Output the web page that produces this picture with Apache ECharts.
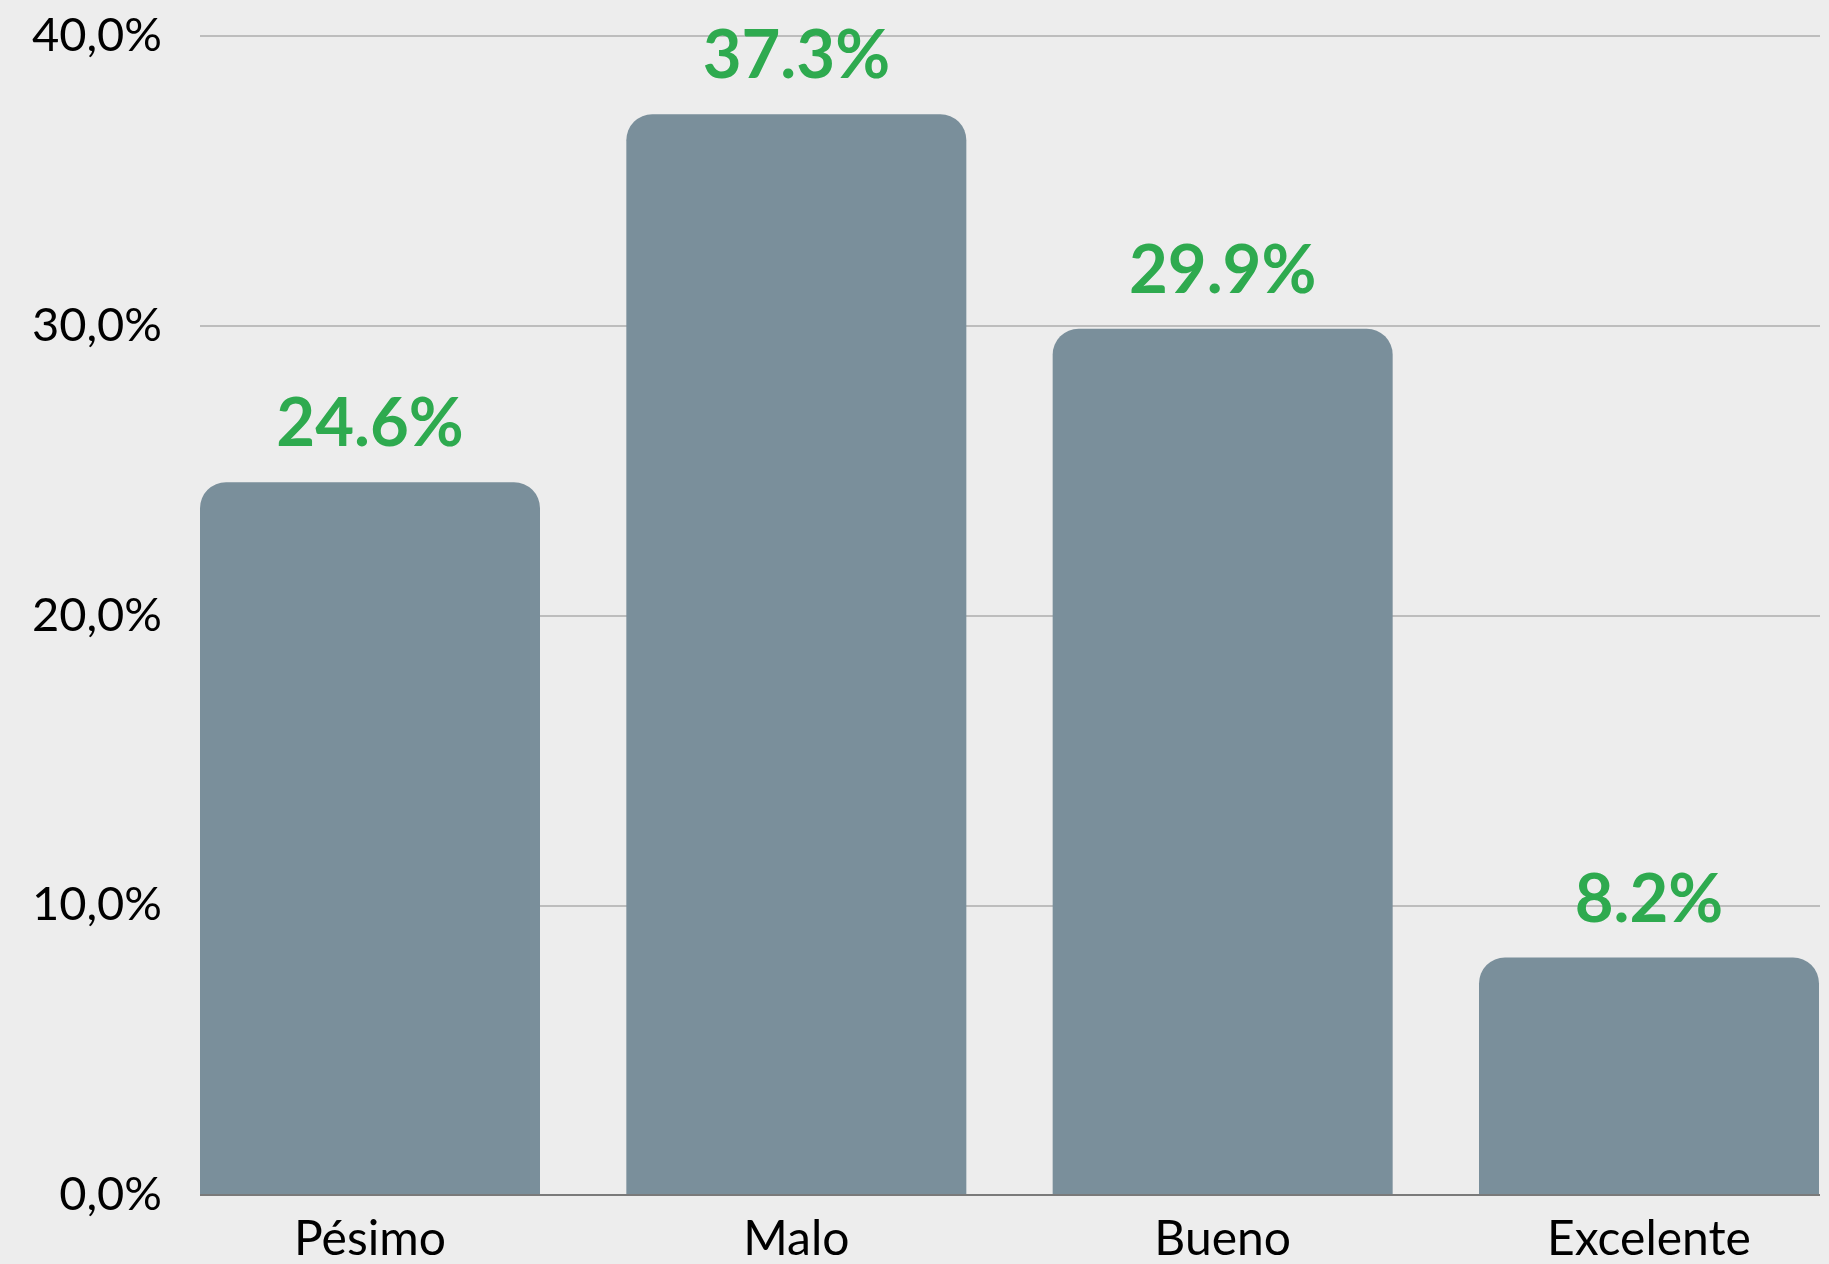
<!DOCTYPE html>
<html>
<head>
<meta charset="utf-8">
<script src="https://cdn.jsdelivr.net/npm/echarts@6/dist/echarts.min.js"></script>
<style>
  html, body { margin: 0; padding: 0; background: #ededed; }
  #main { width: 1829px; height: 1264px; }
</style>
</head>
<body>
<div id="main"></div>
<script>
const categories = ['Pésimo', 'Malo', 'Bueno', 'Excelente'];
const values = [24.6, 37.3, 29.9, 8.2];
const yTicks = [0, 10, 20, 30, 40];

const chart = echarts.init(document.getElementById('main'));

const option = {
    backgroundColor: '#ededed',
    textStyle: { fontFamily: 'Lato' },
    grid: [
        // grid for the horizontal split lines and y labels
        { left: 200, right: 9, top: 36, bottom: 69 },
        // grid for the bars, narrower so the outer bars touch the line ends
        { left: 370, right: 180, top: 36, bottom: 69 }
    ],
    xAxis: [
        {
            gridIndex: 0, type: 'value', min: 0, max: 1,
            axisLine: { show: false }, axisTick: { show: false },
            axisLabel: { show: false }, splitLine: { show: false }
        },
        {
            gridIndex: 1, type: 'category', data: categories, boundaryGap: false,
            axisLine: { show: false },
            axisTick: { show: false },
            axisLabel: { color: '#000', fontSize: 48, margin: 21, fontFamily: 'Lato' }
        }
    ],
    yAxis: [
        {
            gridIndex: 0, type: 'value', min: yTicks[0], max: yTicks[yTicks.length - 1], interval: 10,
            axisLine: { show: false }, axisTick: { show: false },
            axisLabel: {
                color: '#000', fontSize: 47, margin: 38, fontFamily: 'Lato',
                formatter: v => v.toFixed(1).replace('.', ',') + '%'
            },
            splitLine: { lineStyle: { color: '#bdbdbd', width: 2 } }
        },
        {
            gridIndex: 1, type: 'value', min: yTicks[0], max: yTicks[yTicks.length - 1],
            axisLine: { show: false }, axisTick: { show: false },
            axisLabel: { show: false }, splitLine: { show: false }
        }
    ],
    series: [
        {
            type: 'bar',
            xAxisIndex: 1,
            yAxisIndex: 1,
            data: values,
            barWidth: 340,
            itemStyle: { color: '#7a8f9b', borderRadius: [26, 26, 0, 0] },
            label: {
                show: true,
                position: 'top',
                distance: 24,
                color: '#2eaa4f',
                fontSize: 67,
                fontWeight: 'bold',
                fontFamily: 'Lato',
                formatter: p => p.value.toFixed(1) + '%'
            },
            z: 3
        },
        {
            // baseline axis line across the full width
            type: 'line',
            xAxisIndex: 0,
            yAxisIndex: 0,
            data: [[0, 0], [1, 0]],
            symbol: 'none',
            lineStyle: { color: '#7a7a7a', width: 2 },
            silent: true,
            z: 4
        }
    ]
};

chart.setOption(option);
</script>
</body>
</html>
